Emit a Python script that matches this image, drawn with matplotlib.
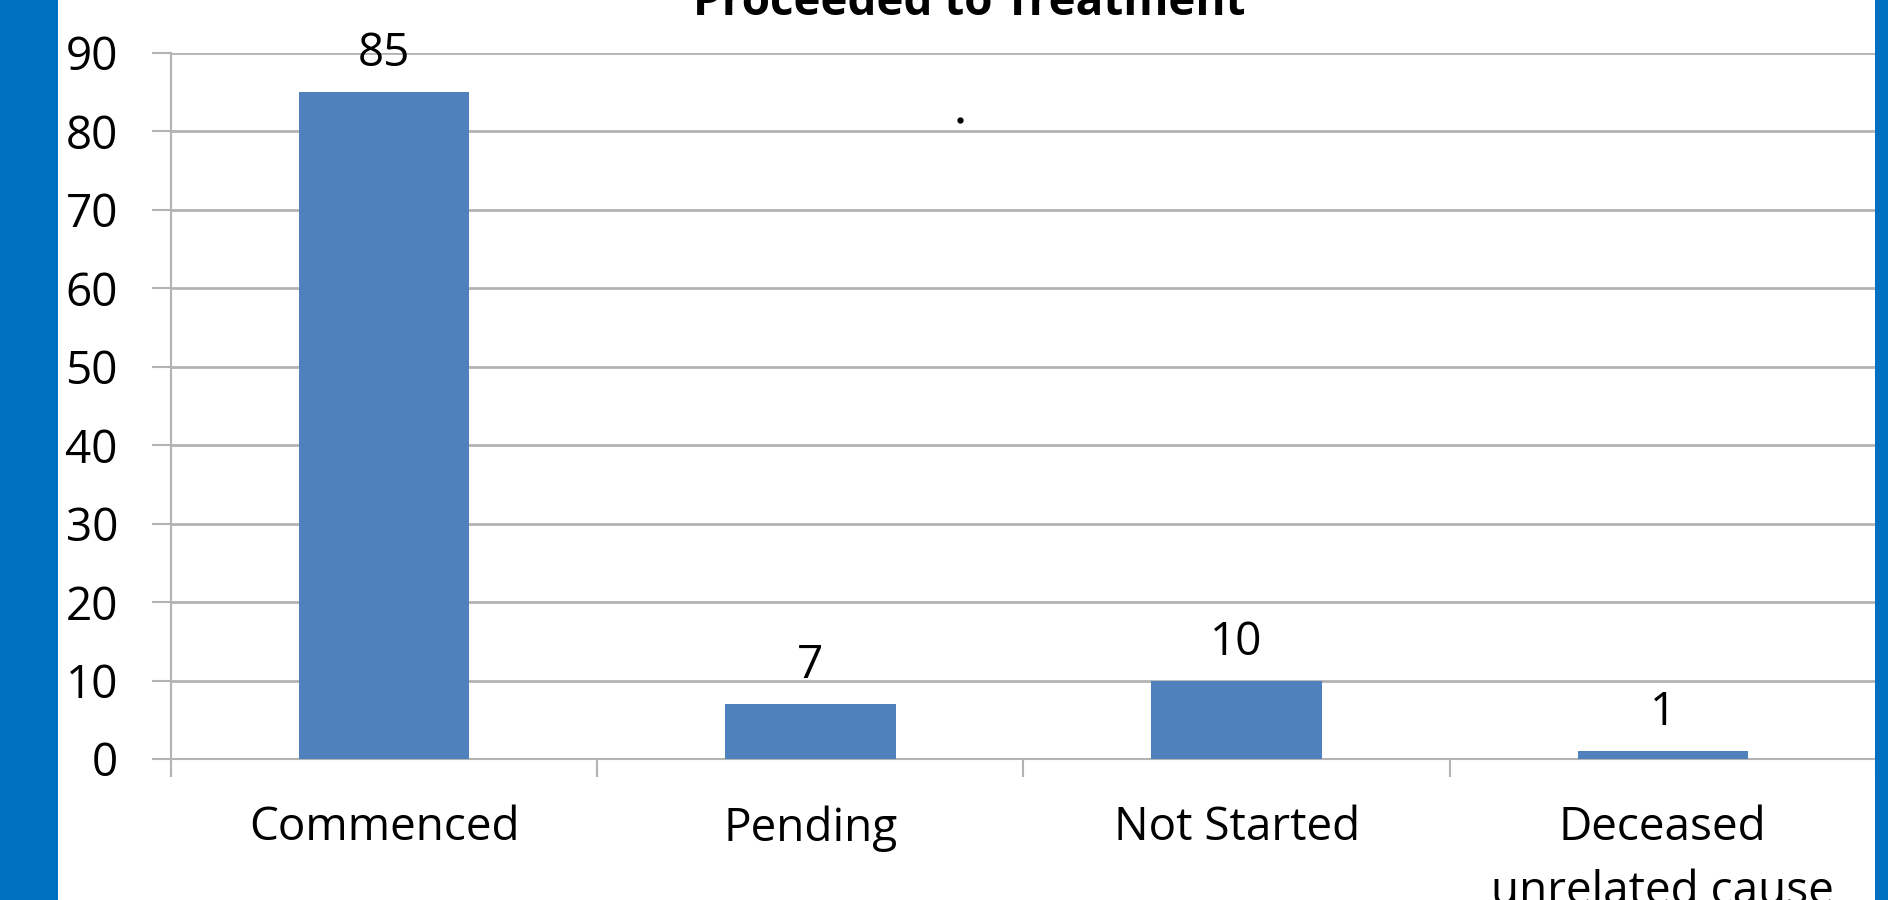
import matplotlib
matplotlib.use("Agg")
import matplotlib.pyplot as plt
from matplotlib.patches import Rectangle
from matplotlib.lines import Line2D

# Data
categories = ["Commenced", "Pending", "Not Started", "Deceased\nunrelated cause"]
counts = [85, 7, 10, 1]
y_ticks = [0, 10, 20, 30, 40, 50, 60, 70, 80, 90]
title = "Proceeded to Treatment"

W, H = 1888, 900
DPI = 100
PX = 72 / DPI  # points per pixel

plt.rcParams["font.family"] = ["Open Sans", "DejaVu Sans"]
FS = 33
GRID = "#B3B3B3"
BAR = "#4F81BD"
FRAME = "#0070C0"

fig = plt.figure(figsize=(W / DPI, H / DPI), dpi=DPI, facecolor="white")

left, right, top, bottom = 171, 1876, 53, 759
ax = fig.add_axes([left / W, 1 - bottom / H, (right - left) / W, (bottom - top) / H])

x = list(range(len(categories)))
bars = ax.bar(x, counts, width=0.4, color=BAR, zorder=3)

ax.set_xlim(-0.5, len(categories) - 0.5)
ax.set_ylim(0, 90)
ax.set_yticks(y_ticks)
ax.set_yticklabels([str(v) for v in y_ticks])
ax.yaxis.grid(True, color=GRID, linewidth=2, zorder=0)
ax.set_axisbelow(True)

for side in ("top", "right"):
    ax.spines[side].set_visible(False)
for side in ("left", "bottom"):
    ax.spines[side].set_color(GRID)
    ax.spines[side].set_linewidth(1.5)

ax.tick_params(axis="y", which="major", direction="out", length=19 * PX,
               width=1.5, color=GRID, pad=34 * PX, labelsize=FS)

# Category labels at centres, separator ticks at category boundaries
ax.set_xticks(x)
ax.set_xticklabels(categories, linespacing=1.5)
ax.set_xticks([i - 0.5 for i in range(len(categories) + 1)], minor=True)
ax.tick_params(axis="x", which="major", length=0, pad=46 * PX, labelsize=FS)
ax.tick_params(axis="x", which="minor", direction="out", length=18 * PX,
               width=1.5, color=GRID)
for lbl in ax.get_xticklabels():
    lbl.set_verticalalignment("top")

# Value labels above bars
for xi, v in zip(x, counts):
    ax.annotate(str(v), xy=(xi, v), xytext=(0, 26 * PX), textcoords="offset points",
                ha="center", va="baseline", fontsize=FS, color="black")

fig.text(969 / W, 1 - 15 / H, title, ha="center", va="baseline",
         fontsize=FS, fontweight="bold", color="black")

# Stray dot in the plot area
fig.add_artist(Line2D([960 / W], [1 - 120 / H], marker="o", markersize=3.5,
                      color="black", linestyle="none", transform=fig.transFigure))

# Blue frame bands at the left and right edges
fig.add_artist(Rectangle((0, 0), 58 / W, 1, transform=fig.transFigure,
                         facecolor=FRAME, edgecolor="none", zorder=10))
fig.add_artist(Rectangle((1875 / W, 0), 13 / W, 1, transform=fig.transFigure,
                         facecolor=FRAME, edgecolor="none", zorder=10))

fig.savefig("out.png", dpi=DPI, facecolor="white")
